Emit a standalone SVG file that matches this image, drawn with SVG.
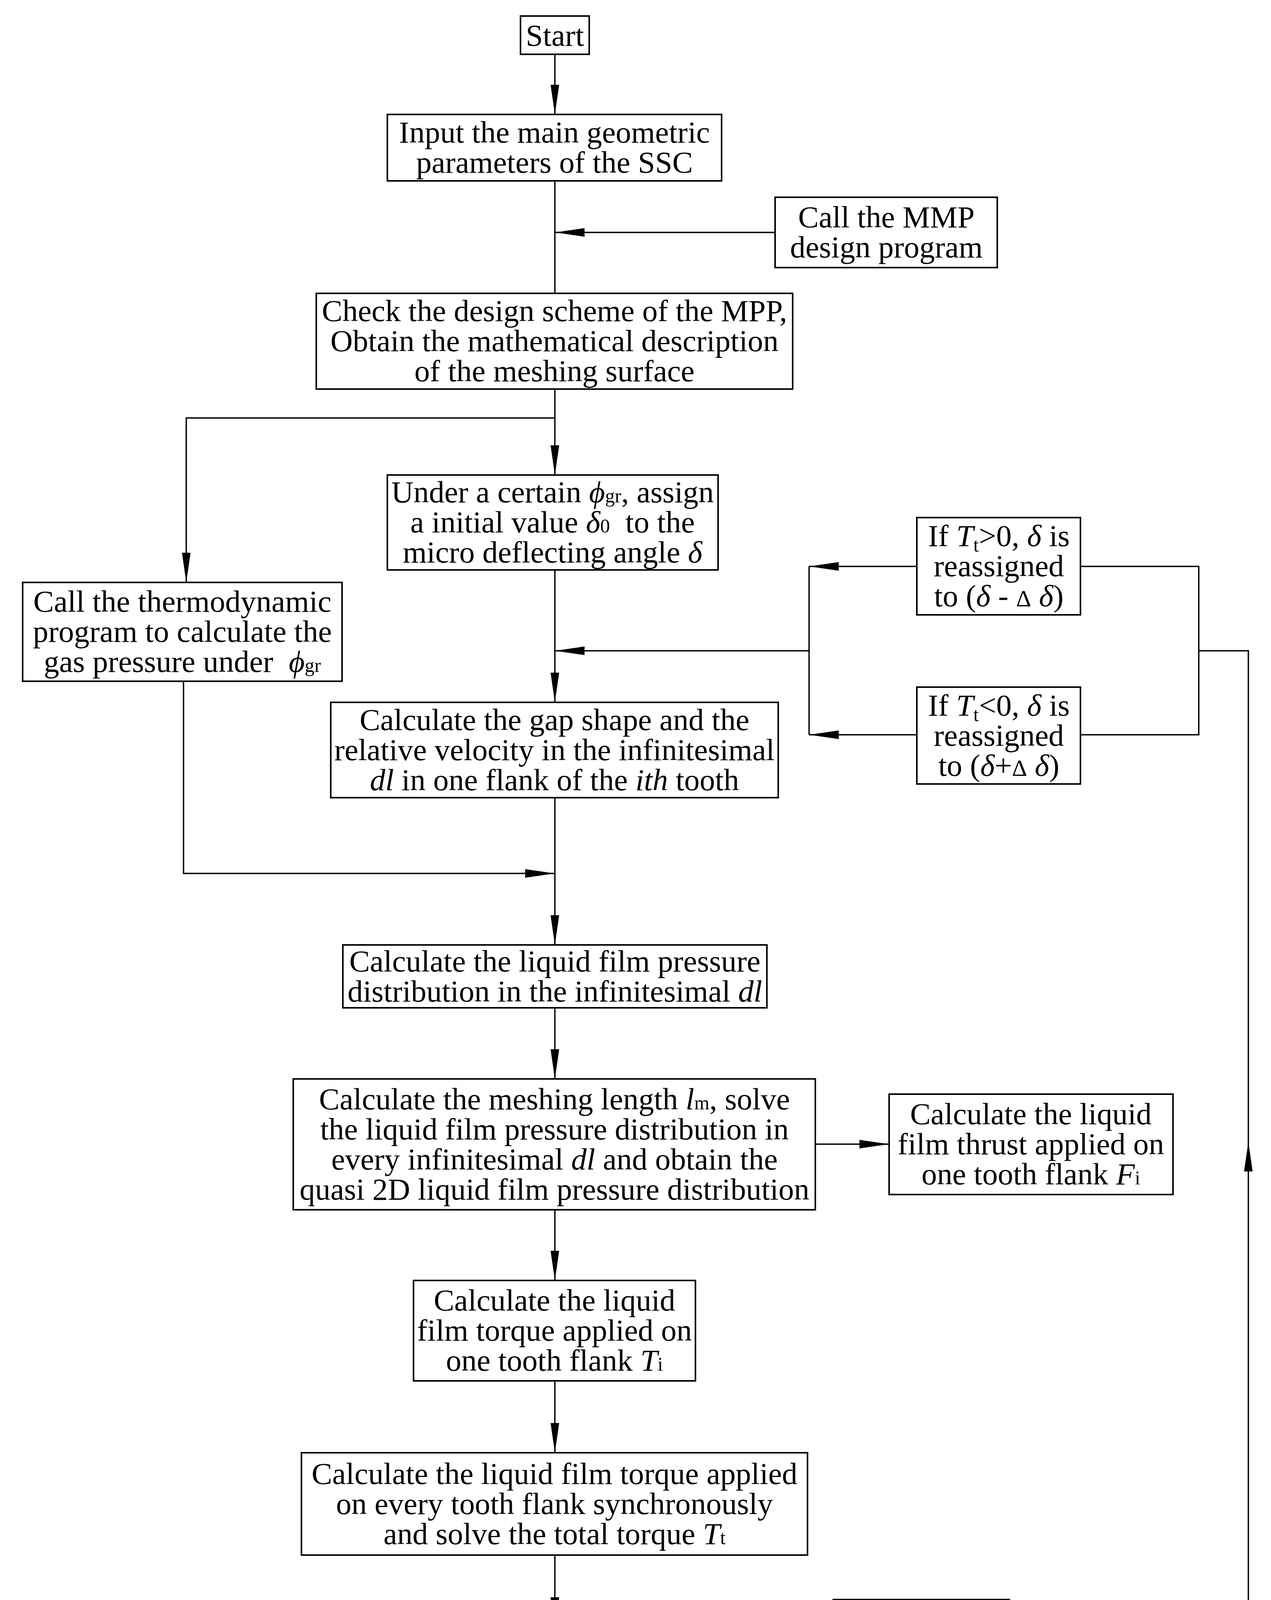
<svg xmlns="http://www.w3.org/2000/svg" width="3255" height="5706" viewBox="0 0 3255 5706">
<style>
.box{fill:#fff;stroke:#000;stroke-width:4}
.ln{fill:none;stroke:#000;stroke-width:3.5}
.ar{marker-end:url(#ah)}
text{font-family:"Liberation Serif","Times New Roman","DejaVu Serif",serif;font-size:79px;text-anchor:middle;fill:#000}
.i{font-style:italic}
.sb{font-size:50px}
.bal{font-size:42px}
</style>
<defs>
<marker id="ah" markerUnits="userSpaceOnUse" markerWidth="80" markerHeight="24" refX="76" refY="11" orient="auto"><path d="M0,0 L76,11 L0,22 Z" fill="#000"/></marker>
</defs>
<rect width="3255" height="5706" fill="#fff"/>
<g id="connectors">
<path class="ln ar" d="M1421,139 V293"/>
<path class="ln ar" d="M1985,595 H1421"/>
<path class="ln" d="M1421,463 V751"/>
<path class="ln ar" d="M1421,996 V1216"/>
<path class="ln ar" d="M1421,1070 H477 V1491"/>
<path class="ln ar" d="M1421,1459 V1798"/>
<path class="ln ar" d="M2348,1450 H2072"/>
<path class="ln ar" d="M2348,1881 H2072"/>
<path class="ln" d="M2072,1450 V1881"/>
<path class="ln ar" d="M2072,1666 H1421"/>
<path class="ln" d="M2767,1450 H3070 V1881 H2767"/>
<path class="ln ar" d="M3197,4180 V2923"/>
<path class="ln" d="M3197,2923 V1666 H3070"/>
<path class="ln ar" d="M470,1744 V2236 H1421"/>
<path class="ln ar" d="M1421,2042 V2419"/>
<path class="ln ar" d="M1421,2580 V2762"/>
<path class="ln ar" d="M2088,2929 H2277"/>
<path class="ln ar" d="M1421,3097 V3278"/>
<path class="ln ar" d="M1421,3535 V3719"/>
<path class="ln ar" d="M1421,3981 V4165"/>
<path class="ln ar" d="M1723,4317 H1997"/>
<path class="ln" d="M1997,4180 V4454"/>
<path class="ln ar" d="M1997,4180 H2134"/>
<path class="ln ar" d="M1997,4454 H2134"/>
<path class="ln" d="M2585,4180 H3197"/>
<path class="ln ar" d="M1421,4469 V4721"/>
<path class="ln ar" d="M2360,4540 V4721"/>
<path class="ln ar" d="M2360,4811 V5032 H1421"/>
<path class="ln ar" d="M1421,4908 V5188"/>
<path class="ln ar" d="M1421,5313 V5496"/>
<text x="1852" y="4301" font-size="70" textLength="36" lengthAdjust="spacingAndGlyphs">N</text>
<text x="1370" y="4556" font-size="70" textLength="36" lengthAdjust="spacingAndGlyphs">Y</text>
</g>
<g id="start"><rect class="box" x="1333" y="41" width="176" height="98"/><text x="1421" y="117">Start</text></g>
<g id="input"><rect class="box" x="992" y="293" width="856" height="170"/><text x="1420" y="365">Input the main geometric</text><text x="1420" y="442">parameters of the SSC</text></g>
<g id="mmp"><rect class="box" x="1985" y="505" width="569" height="180"/><text x="2270" y="582">Call the MMP</text><text x="2270" y="659">design program</text></g>
<g id="check"><rect class="box" x="810" y="751" width="1220" height="245"/><text x="1420" y="822">Check the design scheme of the MPP,</text><text x="1420" y="899">Obtain the mathematical description</text><text x="1420" y="976">of the meshing surface</text></g>
<g id="under"><rect class="box" x="992" y="1216" width="847" height="243"/><text x="1415" y="1286">Under a certain <tspan class="i">ϕ</tspan><tspan class="sb">gr</tspan>, assign</text><text x="1415" y="1363">a initial value <tspan class="i">δ</tspan><tspan class="sb">0</tspan>&#160; to the</text><text x="1415" y="1440">micro deflecting angle <tspan class="i">δ</tspan></text></g>
<g id="thermo"><rect class="box" x="58" y="1491" width="818" height="253"/><text x="467" y="1566">Call the thermodynamic</text><text x="467" y="1643">program to calculate the</text><text x="467" y="1720">gas pressure under&#160; <tspan class="i">ϕ</tspan><tspan class="sb">gr</tspan></text></g>
<g id="tpos"><rect class="box" x="2348" y="1325" width="419" height="249"/><text x="2558" y="1398">If <tspan class="i">T</tspan><tspan class="sb" dy="14">t</tspan><tspan dy="-14">&gt;0, </tspan><tspan class="i">δ</tspan> is</text><text x="2558" y="1475">reassigned</text><text x="2558" y="1552">to (<tspan class="i">δ</tspan> - <tspan font-size="60">Δ</tspan> <tspan class="i">δ</tspan>)</text></g>
<g id="tneg"><rect class="box" x="2348" y="1759" width="419" height="248"/><text x="2558" y="1832">If <tspan class="i">T</tspan><tspan class="sb" dy="14">t</tspan><tspan dy="-14">&lt;0, </tspan><tspan class="i">δ</tspan> is</text><text x="2558" y="1909">reassigned</text><text x="2558" y="1986">to (<tspan class="i">δ</tspan>+<tspan font-size="60">Δ</tspan> <tspan class="i">δ</tspan>)</text></g>
<g id="gap"><rect class="box" x="847" y="1798" width="1146" height="244"/><text x="1420" y="1869">Calculate the gap shape and the</text><text x="1420" y="1946">relative velocity in the infinitesimal</text><text x="1420" y="2023"><tspan class="i">dl</tspan> in one flank of the <tspan class="i">ith</tspan> tooth</text></g>
<g id="pressure"><rect class="box" x="878" y="2419" width="1086" height="161"/><text x="1421" y="2487">Calculate the liquid film pressure</text><text x="1421" y="2564">distribution in the infinitesimal <tspan class="i">dl</tspan></text></g>
<g id="meshing"><rect class="box" x="751" y="2762" width="1337" height="335"/><text x="1420" y="2840">Calculate the meshing length <tspan class="i">l</tspan><tspan class="sb">m</tspan>, solve</text><text x="1420" y="2917">the liquid film pressure distribution in</text><text x="1420" y="2994">every infinitesimal <tspan class="i">dl</tspan> and obtain the</text><text x="1420" y="3071">quasi 2D liquid film pressure distribution</text></g>
<g id="thrust"><rect class="box" x="2277" y="2801" width="727" height="257"/><text x="2640" y="2878">Calculate the liquid</text><text x="2640" y="2955">film thrust applied on</text><text x="2640" y="3032">one tooth flank <tspan class="i">F</tspan><tspan class="sb">i</tspan></text></g>
<g id="torque"><rect class="box" x="1059" y="3278" width="722" height="257"/><text x="1420" y="3355">Calculate the liquid</text><text x="1420" y="3432">film torque applied on</text><text x="1420" y="3509">one tooth flank <tspan class="i">T</tspan><tspan class="sb">i</tspan></text></g>
<g id="total"><rect class="box" x="772" y="3719" width="1296" height="262"/><text x="1420" y="3799">Calculate the liquid film torque applied</text><text x="1420" y="3876">on every tooth flank synchronously</text><text x="1420" y="3953">and solve the total torque <tspan class="i">T</tspan><tspan class="sb">t</tspan></text></g>
<g id="decision"><polygon class="box" style="stroke-width:3.5" points="1420,4165 1723,4317 1420,4469 1117,4317"/><text x="1416" y="4343"><tspan class="i">T</tspan><tspan class="sb" dy="14">t</tspan><tspan dy="-14">=0</tspan></text></g>
<g id="lt"><rect class="box" x="2134" y="4095" width="451" height="171"/><text x="2360" y="4206">If |<tspan class="i">δ</tspan>|&lt;|<tspan class="i">δ</tspan><tspan class="sb">lim</tspan>|</text></g>
<g id="ge"><rect class="box" x="2134" y="4369" width="451" height="171"/><text x="2360" y="4480">If |<tspan class="i">δ</tspan>|≥|<tspan class="i">δ</tspan><tspan class="sb">lim</tspan>|</text></g>
<g id="obtain"><rect class="box" x="1090" y="4721" width="660" height="187"/><text x="1420" y="4802">Obtain the balanced</text><text x="1420" y="4879">deflecting angle <tspan class="i">δ</tspan><tspan class="bal" dy="14">bal</tspan></text></g>
<g id="assign"><rect class="box" x="2010" y="4721" width="699" height="90"/><text x="2360" y="4792">Assign <tspan class="i">δ</tspan> or −<tspan class="i">δ</tspan>to <tspan class="i">δ</tspan><tspan class="bal" dy="14">bal</tspan></text></g>
<g id="output"><rect class="box" x="1090" y="5188" width="660" height="125"/><text x="1420" y="5277">Output <tspan class="i">δ</tspan><tspan class="bal" dy="14">bal</tspan><tspan dy="-14"> under </tspan><tspan class="i">ϕ</tspan><tspan class="sb">gr</tspan></text></g>
<g id="solve"><rect class="box" x="947" y="5496" width="946" height="171"/><text x="1420" y="5569">Solve <tspan class="i">δ</tspan><tspan class="bal" dy="14">bal</tspan><tspan dy="-14"> in a whole peroid </tspan><tspan class="i">γ</tspan></text><text x="1420" y="5646">and obtain the MDMT curve</text></g>
</svg>
